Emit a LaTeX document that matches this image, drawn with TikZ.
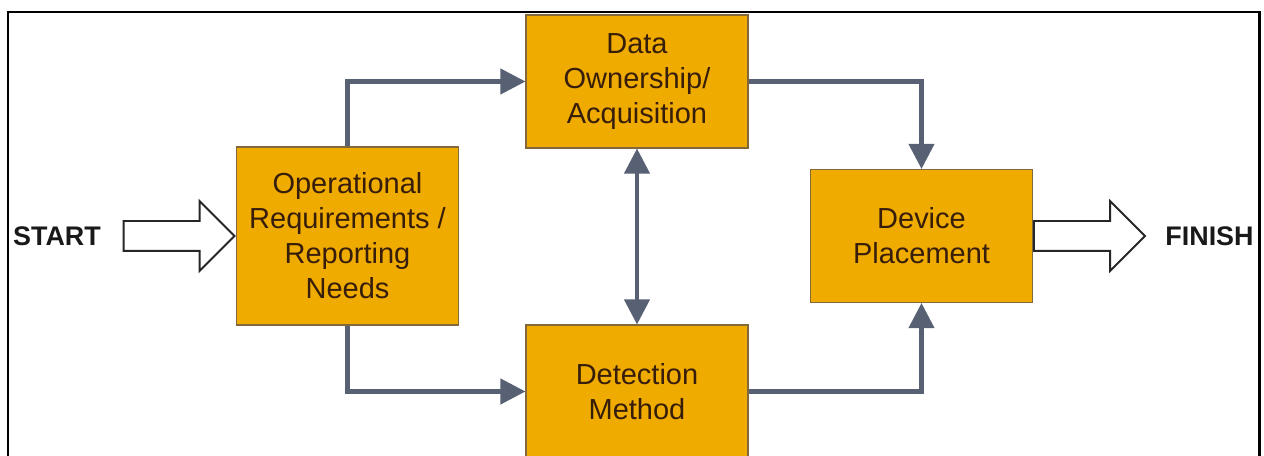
\documentclass[tikz,border=0pt]{standalone}
\usepackage{fontspec}
\setmainfont{Liberation Sans}
\usetikzlibrary{arrows.meta, positioning, shapes.arrows}
\definecolor{boxgold}{RGB}{240,171,0}
\definecolor{boxedge}{RGB}{130,105,60}
\definecolor{boxtext}{RGB}{55,30,10}
\definecolor{flowgray}{RGB}{88,96,115}

\begin{document}
\begin{tikzpicture}[node distance={2cm}, >={Triangle[length=5mm, width=5mm]},
    box/.style = {draw=boxedge, line width=0.6pt, fill=boxgold, text=boxtext, align=center,
      minimum width=4.44cm, minimum height=2.66cm, inner sep=0pt, font=\fontsize{16.5}{19.9}\selectfont},
    flow/.style = {draw=flowgray, line width=2.3pt},
    fatarrow/.style = {single arrow, draw=black!85, line width=1.1pt, fill=white, minimum height=2.22cm,
      inner xsep=0pt, inner ysep=0.28cm, single arrow head extend=0.4cm},
    endlabel/.style = {font=\bfseries\fontsize{15.3}{18}\selectfont, text=black!90}]
    \clip (0,0) rectangle (25.28,9.12);
    \draw[line width=1.7pt] (0.16,-0.5) rectangle (25.18,8.88);

    \node[box, minimum height=3.56cm] (op) at (6.95,4.40) {Operational\\Requirements /\\Reporting\\Needs};
    \node[box] (data) at (12.74,7.49) {Data\\Ownership/\\Acquisition};
    \node[box] (det) [below of=data, node distance=6.20cm] {Detection\\Method};
    \node[box] (dev) [right of=op, node distance=11.48cm] {Device\\Placement};
    \node[endlabel] (start) at (1.14,4.40) {START};
    \node[endlabel] (finish) [right of=dev, node distance=5.76cm] {FINISH};

    \node[fatarrow, anchor=tip] (inarrow) at (op.west) {};
    \node[fatarrow, anchor=tail] (outarrow) at (dev.east) {};

    \draw[flow, ->] (op.north) |- (data.west);
    \draw[flow, ->] (op.south) |- (det.west);
    \draw[flow, ->] (data.east) -| (dev.north);
    \draw[flow, ->] (det.east) -| (dev.south);
    \draw[flow, <->] (data.south) -- (det.north);
  \end{tikzpicture}
\end{document}
